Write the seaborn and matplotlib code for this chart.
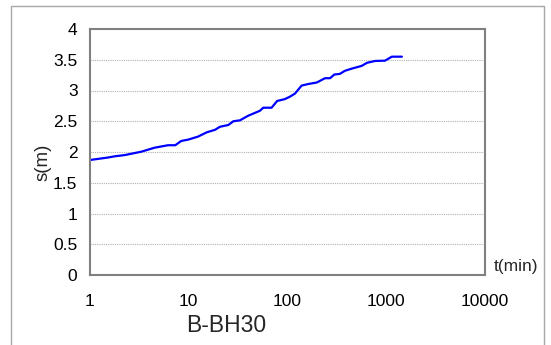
import matplotlib
matplotlib.use("Agg")
import matplotlib.pyplot as plt
import matplotlib.patches as mpatches
from matplotlib.ticker import FixedLocator, NullLocator, FixedFormatter
import seaborn as sns
import pandas as pd

# Drawdown record for well B-BH30
t_min = [1.0, 1.52, 1.78, 2.25, 3.31, 4.51, 6.16, 7.3, 8.4, 9.8, 12.4, 15.2, 18.4,
         20.7, 25.2, 28.3, 33, 40, 52.5, 56.8, 69, 78.6, 94, 106, 119, 139, 162,
         198, 240, 270, 298, 339, 381, 446, 563, 638, 770, 970, 1140, 1440]
s_m = [1.87, 1.91, 1.93, 1.95, 2.005, 2.07, 2.11, 2.11, 2.18, 2.20, 2.25, 2.32, 2.36,
       2.41, 2.44, 2.50, 2.515, 2.59, 2.67, 2.72, 2.72, 2.83, 2.86, 2.90, 2.95, 3.08,
       3.105, 3.13, 3.20, 3.20, 3.26, 3.27, 3.32, 3.355, 3.40, 3.45, 3.48, 3.485,
       3.55, 3.55]

x_ticks = [1, 10, 100, 1000, 10000]
x_labels = ["1", "10", "100", "1000", "10000"]
y_ticks = [0, 0.5, 1, 1.5, 2, 2.5, 3, 3.5, 4]
y_labels = ["0", "0.5", "1", "1.5", "2", "2.5", "3", "3.5", "4"]

df = pd.DataFrame({"t": t_min, "s": s_m})

sns.set_style("white")
plt.rcParams["font.family"] = ["Liberation Sans", "DejaVu Sans"]

fig = plt.figure(figsize=(5.51, 3.45), dpi=100)
ax = fig.add_axes([90 / 551, 70 / 345, 395 / 551, 246 / 345])

sns.lineplot(data=df, x="t", y="s", ax=ax, color="#0000ff", linewidth=1.6,
             estimator=None, sort=False)

ax.set_xscale("log")
ax.set_xlim(1, 10000)
ax.set_ylim(0, 4)
ax.xaxis.set_major_locator(FixedLocator(x_ticks))
ax.xaxis.set_major_formatter(FixedFormatter(x_labels))
ax.xaxis.set_minor_locator(NullLocator())
ax.set_yticks(y_ticks)
ax.set_yticklabels(y_labels)

ax.yaxis.grid(True, color="#b0b0b0", linestyle=(0, (1, 1)), linewidth=0.8)
ax.xaxis.grid(False)
ax.set_axisbelow(True)

for side in ["left", "bottom", "top", "right"]:
    ax.spines[side].set_visible(True)
    ax.spines[side].set_color("#808080")
    ax.spines[side].set_linewidth(1.5)

ax.tick_params(axis="both", which="major", direction="out", length=5, width=1,
               color="#808080", labelsize=12.5, labelcolor="black")
ax.tick_params(axis="x", pad=9)
ax.tick_params(axis="y", pad=4)

ax.set_xlabel("")
ax.set_ylabel("s(m)", fontsize=13.5)
ax.yaxis.set_label_coords(52 / 551, 1 - 162 / 345, transform=fig.transFigure)

fig.text(494 / 551, 1 - 266 / 345, "t(min)", fontsize=12.5, ha="left", va="center")
fig.text(226 / 551, 1 - 326 / 345, "B-BH30", fontsize=16.5, ha="center", va="center")

# outer chart frame
frame = mpatches.Rectangle((11 / 551, -0.05), 533 / 551, 1.05 - 6 / 345,
                           transform=fig.transFigure, fill=False,
                           edgecolor="#a8a8a8", linewidth=1.0)
fig.patches.append(frame)

fig.savefig("out.png", dpi=100)
